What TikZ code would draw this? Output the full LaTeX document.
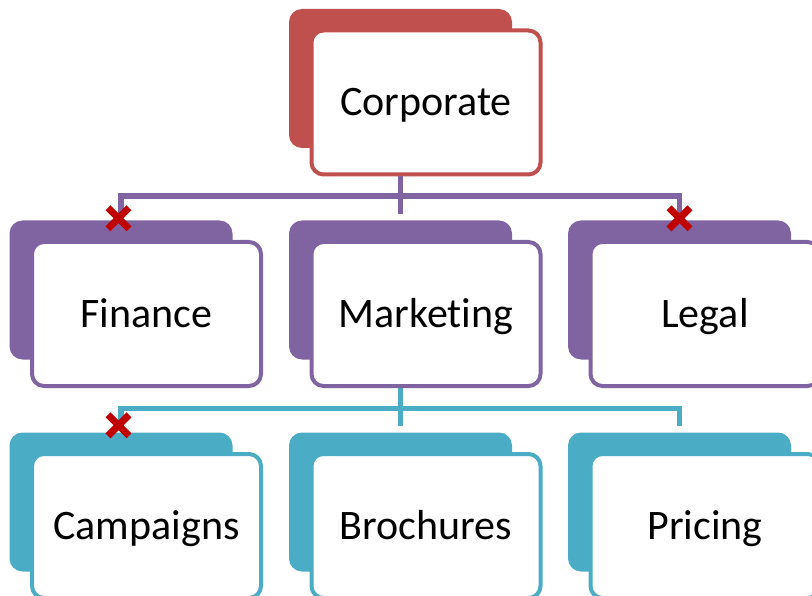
\documentclass[tikz,border=0pt]{standalone}
\usepackage{fontspec}
\setmainfont{Carlito}[Ligatures=NoCommon]
\usepackage{tikz}
\usetikzlibrary{calc,shapes.misc}

\definecolor{corpred}{HTML}{C0504D}
\definecolor{deptpurple}{HTML}{8064A2}
\definecolor{teamcyan}{HTML}{4BACC6}
\definecolor{cutred}{HTML}{C00000}

\begin{document}
\begin{tikzpicture}[x=1pt,y=-1pt,
    backcard/.style={fill=#1,rounded corners=13pt,minimum width=223pt,minimum height=139pt,inner sep=0pt},
    frontcard/.style={draw=#1,fill=white,line width=4pt,rounded corners=12pt,minimum width=229pt,minimum height=144pt,
        font=\fontsize{42}{50}\selectfont,text height=26pt,text depth=0pt},
    orgline/.style={draw=#1,line width=5.5pt,shorten >=6pt},
    cutmark/.style={cross out,draw=cutred,line width=7pt,minimum size=21pt,inner sep=0pt,outer sep=0pt}]

    \useasboundingbox (0,0) rectangle (812,596);

    % top level
    \node[backcard=corpred] (corpb) at (400.5,78.5) {};
    \node[frontcard=corpred] (corp) at ($(corpb)+(25.5,24)$) {Corporate};

    % departments
    \node[backcard=deptpurple] (finb) at (121,290) {};
    \node[frontcard=deptpurple] (fin) at ($(finb)+(25.5,24)$) {Finance};
    \node[backcard=deptpurple] (mktb) at (400.5,290) {};
    \node[frontcard=deptpurple] (mkt) at ($(mktb)+(25.5,24)$) {Marketing};
    \node[backcard=deptpurple] (legb) at (679.5,290) {};
    \node[frontcard=deptpurple] (leg) at ($(legb)+(25.5,24)$) {Legal};

    % marketing teams
    \node[backcard=teamcyan] (campb) at (121,502) {};
    \node[frontcard=teamcyan] (camp) at ($(campb)+(25.5,24)$) {Campaigns};
    \node[backcard=teamcyan] (brob) at (400.5,502) {};
    \node[frontcard=teamcyan] (bro) at ($(brob)+(25.5,24)$) {Brochures};
    \node[backcard=teamcyan] (prib) at (679.5,502) {};
    \node[frontcard=teamcyan] (pri) at ($(prib)+(25.5,24)$) {Pricing};

    \draw[orgline=deptpurple] (corpb |- corp.south) -- ++(0,19.5) -| (finb.north);
    \draw[orgline=deptpurple] (corpb |- corp.south) -- (mktb.north);
    \draw[orgline=deptpurple] (corpb |- corp.south) -- ++(0,19.5) -| (legb.north);

    \draw[orgline=teamcyan] (mktb |- mkt.south) -- ++(0,20.5) -| (campb.north);
    \draw[orgline=teamcyan] (mktb |- mkt.south) -- (brob.north);
    \draw[orgline=teamcyan] (mktb |- mkt.south) -- ++(0,20.5) -| (prib.north);

    % removed links
    \node[cutmark] (xfin) at ($(finb.north)+(-2.5,-2)$) {};
    \node[cutmark] (xleg) at ($(legb.north)+(0,-2)$) {};
    \node[cutmark] (xcamp) at ($(campb.north)+(-2.5,-7)$) {};

\end{tikzpicture}
\end{document}
